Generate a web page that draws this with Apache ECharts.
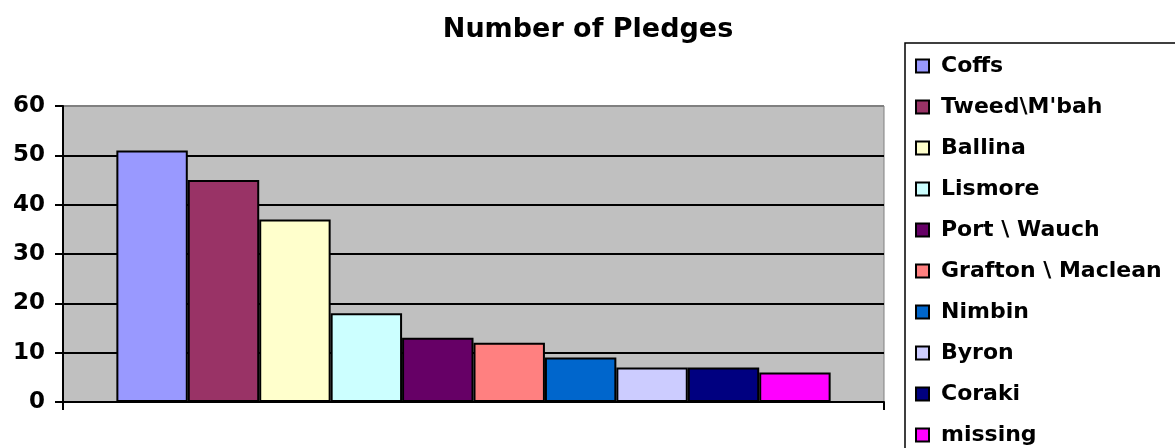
<!DOCTYPE html>
<html>
<head>
<meta charset="utf-8">
<script src="https://cdn.jsdelivr.net/npm/echarts@6/dist/echarts.min.js"></script>
<style>html,body{margin:0;padding:0;background:#fff;}#c{width:1175px;height:448px;}</style>
</head>
<body>
<div id="c"></div>
<script>
const seriesNames = ["Coffs", "Tweed\\M'bah", "Ballina", "Lismore", "Port \\ Wauch", "Grafton \\ Maclean", "Nimbin", "Byron", "Coraki", "missing"];
const seriesValues = [51, 45, 37, 18, 13, 12, 9, 7, 7, 6];
const seriesColors = ["#9999FF", "#993366", "#FFFFCC", "#CCFFFF", "#660066", "#FF8080", "#0066CC", "#CCCCFF", "#000080", "#FF00FF"];
const categories = [""];
const yTicks = { min: 0, max: 60, interval: 10 };

const FONT = "'DejaVu Sans', Verdana, sans-serif";
const chart = echarts.init(document.getElementById('c'), null, { renderer: 'canvas' });
chart.setOption({
  animation: false,
  backgroundColor: '#ffffff',
  title: {
    text: 'Number of Pledges',
    left: 583, textAlign: 'center', top: 11,
    textStyle: { fontFamily: FONT, fontWeight: 'bold', fontSize: 27, color: '#000' }
  },
  legend: {
    orient: 'vertical',
    left: 905, top: 43,
    height: 600,
    padding: [12, 200, 60, 10],
    backgroundColor: '#fff',
    borderColor: '#000', borderWidth: 1.5,
    itemWidth: 13, itemHeight: 13, itemGap: 19,
    icon: 'rect',
    data: seriesNames,
    textStyle: { fontFamily: FONT, fontWeight: 'bold', fontSize: 22, color: '#000', lineHeight: 22, padding: [0, 0, 0, 7] }
  },
  grid: {
    left: 63, right: 291, top: 106, bottom: 46,
    show: true, backgroundColor: '#C0C0C0', borderColor: '#808080', borderWidth: 1
  },
  xAxis: {
    type: 'category', data: categories,
    axisLine: { lineStyle: { color: '#000', width: 2 } },
    axisTick: { show: true, length: 8, lineStyle: { color: '#000', width: 2 } },
    axisLabel: { show: false },
    splitLine: { show: false }
  },
  yAxis: {
    type: 'value', min: yTicks.min, max: yTicks.max, interval: yTicks.interval,
    axisLine: { show: true, lineStyle: { color: '#000', width: 2 } },
    axisTick: { show: true, length: 8, lineStyle: { color: '#000', width: 2 } },
    axisLabel: { fontFamily: FONT, fontWeight: 'bold', fontSize: 23, color: '#000', margin: 18 },
    splitLine: { show: true, lineStyle: { color: ['#000', '#000', '#000', '#000', '#000', '#000', '#808080'], width: 2 } }
  },
  series: seriesNames.map((name, i) => ({
    name: name,
    type: 'bar',
    data: [seriesValues[i]],
    barGap: '0%',
    barCategoryGap: '13%',
    itemStyle: { color: seriesColors[i], borderColor: '#000', borderWidth: 2 }
  }))
});
</script>
</body>
</html>
